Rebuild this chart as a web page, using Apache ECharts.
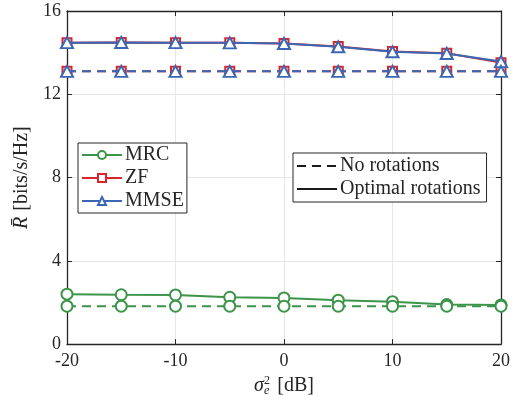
<!DOCTYPE html>
<html><head><meta charset="utf-8">
<script src="https://cdn.jsdelivr.net/npm/echarts@6/dist/echarts.min.js"></script>
<style>html,body{margin:0;padding:0;background:#fff}#c{width:520px;height:402px}</style>
</head><body><div id="c"></div>
<script>
var xs = [-20, -15, -10, -5, 0, 5, 10, 15, 20];
var mrcOpt = [2.40, 2.37, 2.36, 2.25, 2.22, 2.11, 2.04, 1.90, 1.88];
var mrcNo  = [1.82, 1.82, 1.82, 1.82, 1.82, 1.82, 1.82, 1.82, 1.82];
var zfOpt  = [14.48, 14.49, 14.48, 14.47, 14.44, 14.29, 14.05, 13.97, 13.52];
var zfNo   = [13.10, 13.10, 13.10, 13.10, 13.10, 13.10, 13.10, 13.10, 13.10];
var mmseOpt= [14.48, 14.49, 14.48, 14.47, 14.44, 14.28, 14.04, 13.96, 13.57];
var mmseNo = [13.10, 13.10, 13.10, 13.10, 13.10, 13.10, 13.10, 13.10, 13.10];
var yTicks = [0, 4, 8, 12, 16];

var GREEN = '#3b9448', RED = '#d8262f', BLUE = '#3b66b3';
var FONT = 'Liberation Serif';
var TXT = '#262626';
function pts(v){ return xs.map(function(x,i){ return [x, v[i]]; }); }
function ser(name, data, color, sym, size, dashed, z){
  return {
    name: name, type: 'line', data: pts(data), z: z,
    symbol: sym, symbolSize: size, showSymbol: true,
    itemStyle: { color: color, borderColor: color, borderWidth: 1.8 },
    lineStyle: { color: color, width: 2, type: dashed ? [9, 6] : 'solid' },
    emphasis: { disabled: true }, animation: false
  };
}
var axLine = { show: true, onZero: false, lineStyle: { color: TXT, width: 1.3 } };
var tick = { show: true, inside: true, length: 5, lineStyle: { color: TXT } };
var chart = echarts.init(document.getElementById('c'), null, { renderer: 'canvas' });
chart.setOption({
  backgroundColor: '#fff',
  animation: false,
  grid: { left: 67, right: 19, top: 11, bottom: 57 },
  xAxis: [{
    type: 'value', min: -20, max: 20, interval: 10,
    name: '{it|σ}{sup|2}{sub|e}{n|[dB]}', nameLocation: 'middle', nameGap: 27,
    nameTextStyle: { rich: {
      it: { fontFamily: FONT, fontStyle: 'italic', fontSize: 20, color: TXT },
      sup: { fontFamily: FONT, fontSize: 12, color: TXT, verticalAlign: 'top', padding: [0,0,10,0] },
      sub: { fontFamily: FONT, fontStyle: 'italic', fontSize: 12, color: TXT, verticalAlign: 'bottom', padding: [8,0,0,-6] },
      n: { fontFamily: FONT, fontSize: 20, color: TXT, padding: [0,0,0,8] } } },
    axisLine: axLine, axisTick: tick,
    axisLabel: { fontFamily: FONT, fontSize: 18, color: TXT, margin: 8 },
    splitLine: { show: true, lineStyle: { color: '#e6e6e6', width: 1 } }
  }, {
    type: 'value', min: -20, max: 20, interval: 10, position: 'top',
    axisLine: axLine, axisTick: tick,
    axisLabel: { show: false }, splitLine: { show: false }
  }],
  yAxis: [{
    type: 'value', min: 0, max: 16, interval: 4,
    name: '{it|R̄}{n|[bits/s/Hz]}', nameLocation: 'middle', nameGap: 32, nameRotate: 90,
    nameTextStyle: { rich: {
      it: { fontFamily: FONT, fontStyle: 'italic', fontSize: 20, color: TXT },
      n: { fontFamily: FONT, fontSize: 20, color: TXT, padding: [0,0,0,6] } } },
    axisLine: axLine, axisTick: tick,
    axisLabel: { fontFamily: FONT, fontSize: 18, color: TXT, margin: 6,
      formatter: function(v){ return yTicks.indexOf(v) >= 0 ? String(v) : ''; } },
    splitLine: { show: true, lineStyle: { color: '#e6e6e6', width: 1 } }
  }, {
    type: 'value', min: 0, max: 16, interval: 4, position: 'right',
    axisLine: axLine, axisTick: tick,
    axisLabel: { show: false }, splitLine: { show: false }
  }],
  legend: [{
    data: ['MRC', 'ZF', 'MMSE'], orient: 'vertical', left: 78, top: 143,
    itemWidth: 40, itemHeight: 10, itemGap: 3,
    backgroundColor: '#fff', borderColor: TXT, borderWidth: 1, borderRadius: 0,
    padding: [2, 3, 2, 3],
    textStyle: { fontFamily: FONT, fontSize: 20, color: TXT, padding: [0,0,0,-2] },
    selectedMode: false
  }, {
    data: [
      { name: 'No rotations', itemStyle: { opacity: 0 } },
      { name: 'Optimal rotations', itemStyle: { opacity: 0 } }
    ], orient: 'vertical', left: 293, top: 153,
    itemWidth: 40, itemHeight: 10, itemGap: 3,
    backgroundColor: '#fff', borderColor: TXT, borderWidth: 1, borderRadius: 0,
    padding: [3, 6, 3, 3],
    textStyle: { fontFamily: FONT, fontSize: 20, color: TXT, padding: [0,0,0,-2] },
    selectedMode: false
  }],
  series: [
    ser('MRC', mrcOpt, GREEN, 'emptyCircle', 11, false, 3),
    ser('MRC', mrcNo, GREEN, 'emptyCircle', 11, true, 3),
    ser('ZF', zfOpt, RED, 'emptyRect', 9, false, 4),
    ser('ZF', zfNo, RED, 'emptyRect', 9, true, 4),
    ser('MMSE', mmseOpt, BLUE, 'emptyTriangle', [12, 11], false, 5),
    ser('MMSE', mmseNo, BLUE, 'emptyTriangle', [12, 11], true, 5),
    { name: 'No rotations', type: 'line', data: [], symbol: 'none',
      itemStyle: { color: '#1a1a1a' }, lineStyle: { color: '#1a1a1a', width: 2, type: [9, 6] } },
    { name: 'Optimal rotations', type: 'line', data: [], symbol: 'none',
      itemStyle: { color: '#1a1a1a' }, lineStyle: { color: '#1a1a1a', width: 2, type: 'solid' } }
  ]
});
</script></body></html>
